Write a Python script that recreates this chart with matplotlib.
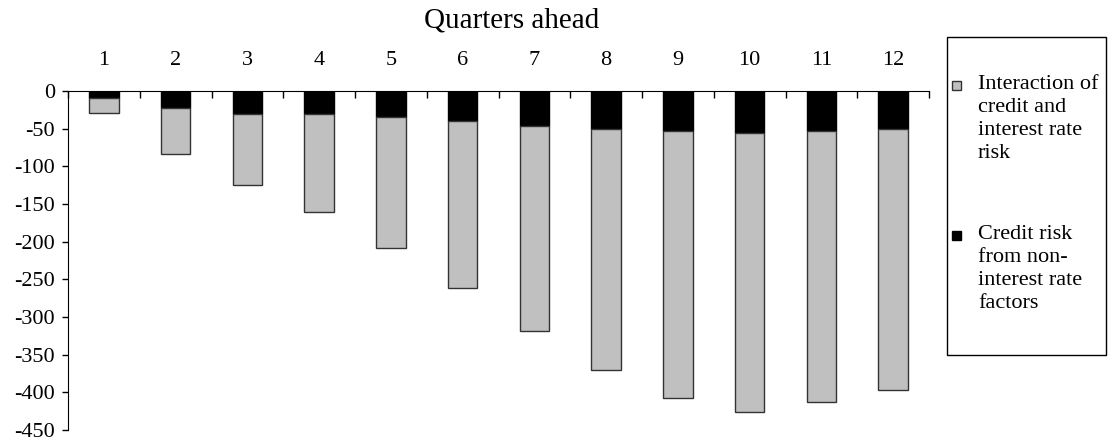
import numpy as np
import matplotlib.pyplot as plt
from matplotlib.patches import Rectangle

plt.rcParams['font.family'] = ['Liberation Serif', 'DejaVu Serif']

quarters = [str(q) for q in range(1, 13)]
# credit risk from non-interest rate factors (black, top segment)
credit_risk = [-9, -22, -30, -30, -35, -40, -46, -51, -53, -56, -53, -50]
# interaction of credit and interest rate risk (grey, stacked below)
interaction = [-20, -62, -95, -131, -173, -222, -272, -319, -355, -370, -360, -347]
y_ticks = list(range(-450, 1, 50))
legend_labels = ["Interaction of\ncredit and\ninterest rate\nrisk",
                 "Credit risk\nfrom non-\ninterest rate\nfactors"]
grey = "#c0c0c0"

W, H = 1114, 441
fig = plt.figure(figsize=(W / 100, H / 100), dpi=100)
ax = fig.add_axes([68 / W, 1 - 430 / H, (929 - 68) / W, (430 - 91) / H])

ind = np.arange(len(quarters))
width = 0.41

ax.bar(ind, credit_risk, width, color="black", edgecolor="black", linewidth=1)
ax.bar(ind, interaction, width, bottom=credit_risk, color=grey,
       edgecolor="#333333", linewidth=1)

ax.set_xlim(-0.5, len(quarters) - 0.5)
ax.set_ylim(-450, 0)
ax.set_yticks(y_ticks)
ax.set_yticklabels([str(v) for v in y_ticks], fontsize=16)
ax.tick_params(axis="y", direction="out", length=4.5, width=1, pad=5)

# category axis sits at the top, labels centred, ticks between categories
ax.xaxis.set_ticks_position("top")
ax.set_xticks(np.arange(len(quarters) + 1) - 0.5)
ax.set_xticklabels([])
ax.set_xticks(ind, minor=True)
ax.set_xticklabels(quarters, minor=True, fontsize=16)
ax.tick_params(axis="x", which="major", direction="in", length=5, width=1)
ax.tick_params(axis="x", which="minor", length=0, pad=15)

ax.spines["right"].set_visible(False)
ax.spines["bottom"].set_visible(False)

fig.text(512 / W, 1 - 21 / H, "Quarters ahead", ha="center", va="center",
         fontsize=21)

# legend box drawn by hand so the keys line up with the first text line
fig.patches.append(Rectangle((947 / W, 1 - 355 / H), (1106 - 947) / W, (355 - 37) / H,
                             transform=fig.transFigure, facecolor="white",
                             edgecolor="black", linewidth=1))
for label, color, edge, top in zip(legend_labels, [grey, "black"],
                                   ["#333333", "black"], [75, 225]):
    fig.patches.append(Rectangle((952 / W, 1 - (top + 15) / H), 9 / W, 9 / H,
                                 transform=fig.transFigure, facecolor=color,
                                 edgecolor=edge, linewidth=1))
    fig.text(978 / W, 1 - top / H, label, ha="left", va="top", fontsize=16,
             linespacing=1.29)

fig.savefig("out.png", dpi=100)
